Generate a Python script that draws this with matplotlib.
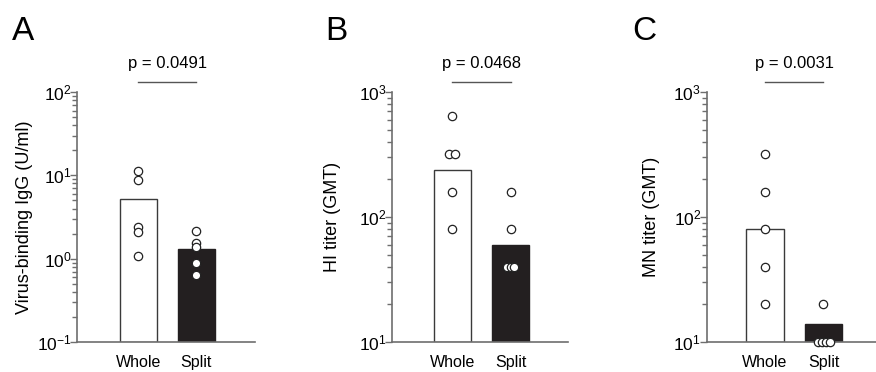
import numpy as np
import matplotlib.pyplot as plt

plt.rcParams["font.family"] = ["Liberation Sans", "DejaVu Sans"]
plt.rcParams["mathtext.fontset"] = "custom"
plt.rcParams["mathtext.rm"] = "Liberation Sans"
plt.rcParams["mathtext.it"] = "Liberation Sans:italic"
plt.rcParams["mathtext.bf"] = "Liberation Sans:bold"

GROUPS = ["Whole", "Split"]
PANELS = ["A", "B", "C"]
YLABELS = ["Virus-binding IgG (U/ml)", "HI titer (GMT)", "MN titer (GMT)"]
PVALUES = ["p = 0.0491", "p = 0.0468", "p = 0.0031"]
YLIMS = [(0.1, 100), (10, 1000), (10, 1000)]

# bar heights (whole, split)
BAR_A = [5.15, 1.31]
BAR_B = [240, 60]
BAR_C = [80, 14]

# individual animals
WHOLE_A = [11.4, 8.8, 2.38, 2.07, 1.08]
SPLIT_A = [2.16, 1.55, 1.37, 0.88, 0.63]
WHOLE_B = [640, 320, 320, 160, 80]
SPLIT_B = [160, 80, 40, 40, 40]
WHOLE_C = [320, 160, 80, 40, 20]
SPLIT_C = [20, 10, 10, 10, 10]

# small horizontal offsets so overlapping circles stay visible
OFF_WHOLE = [[0, 0, 0, 0, 0], [0, -0.05, 0.05, 0, 0], [0, 0, 0, 0, 0]]
OFF_SPLIT = [[0, 0, 0, 0, 0], [0, 0, -0.06, 0, 0.06], [0, -0.1, -0.03, 0.04, 0.11]]

bars = [BAR_A, BAR_B, BAR_C]
whole = [WHOLE_A, WHOLE_B, WHOLE_C]
split = [SPLIT_A, SPLIT_B, SPLIT_C]

fig = plt.figure(figsize=(8.76, 3.72), dpi=100)
lefts = [0.0879, 0.4475, 0.8067]
widths = [0.203, 0.201, 0.193]
xlims = [(-1.06, 2.01), (-1.03, 1.98), (-0.99, 1.89)]
label_x = [0.014, 0.371, 0.722]
ylab_x = [-0.247, -0.29, -0.276]

spine_col = "#6e6e6e"
for i in range(3):
    ax = fig.add_axes([lefts[i], 0.0806, widths[i], 0.672])
    ax.set_yscale("log")
    ymin = YLIMS[i][0]
    ax.set_ylim(*YLIMS[i])
    ax.set_xlim(*xlims[i])
    x = np.arange(len(GROUPS))
    ax.bar(x, np.array(bars[i]) - ymin, width=0.64, bottom=ymin,
           color=["white", "#231f20"], edgecolor=["#3a3a3a", "#231f20"],
           linewidth=1.0, zorder=2)
    for j, (vals, offs) in enumerate([(whole[i], OFF_WHOLE[i]), (split[i], OFF_SPLIT[i])]):
        ax.plot(np.full(len(vals), x[j]) + np.array(offs), vals, "o",
                ms=6, mfc="white", mec="#222222", mew=0.9, zorder=3, clip_on=False)
    ax.set_xticks(x)
    ax.set_xticklabels(GROUPS, fontsize=11.5)
    ax.tick_params(axis="x", length=0, pad=9)
    ax.tick_params(axis="y", which="major", length=5, width=1, labelsize=12.5,
                   color=spine_col, pad=-1)
    ax.tick_params(axis="y", which="minor", length=3.5, width=1, color=spine_col)
    for s in ["top", "right"]:
        ax.spines[s].set_visible(False)
    for s in ["left", "bottom"]:
        ax.spines[s].set_color(spine_col)
        ax.spines[s].set_linewidth(1.2)
    ax.set_ylabel(YLABELS[i], fontsize=13)
    ax.yaxis.set_label_coords(ylab_x[i], 0.5)
    ax.plot([0, 1], [1.04, 1.04], color="#555555", lw=1,
            transform=ax.get_xaxis_transform(), clip_on=False)
    ax.text(0.5, 1.116, PVALUES[i], transform=ax.get_xaxis_transform(),
            ha="center", va="center", fontsize=12)
    fig.text(label_x[i], 0.915, PANELS[i], fontsize=24, ha="left", va="center")

plt.savefig("out.png", dpi=100)
plt.close()
